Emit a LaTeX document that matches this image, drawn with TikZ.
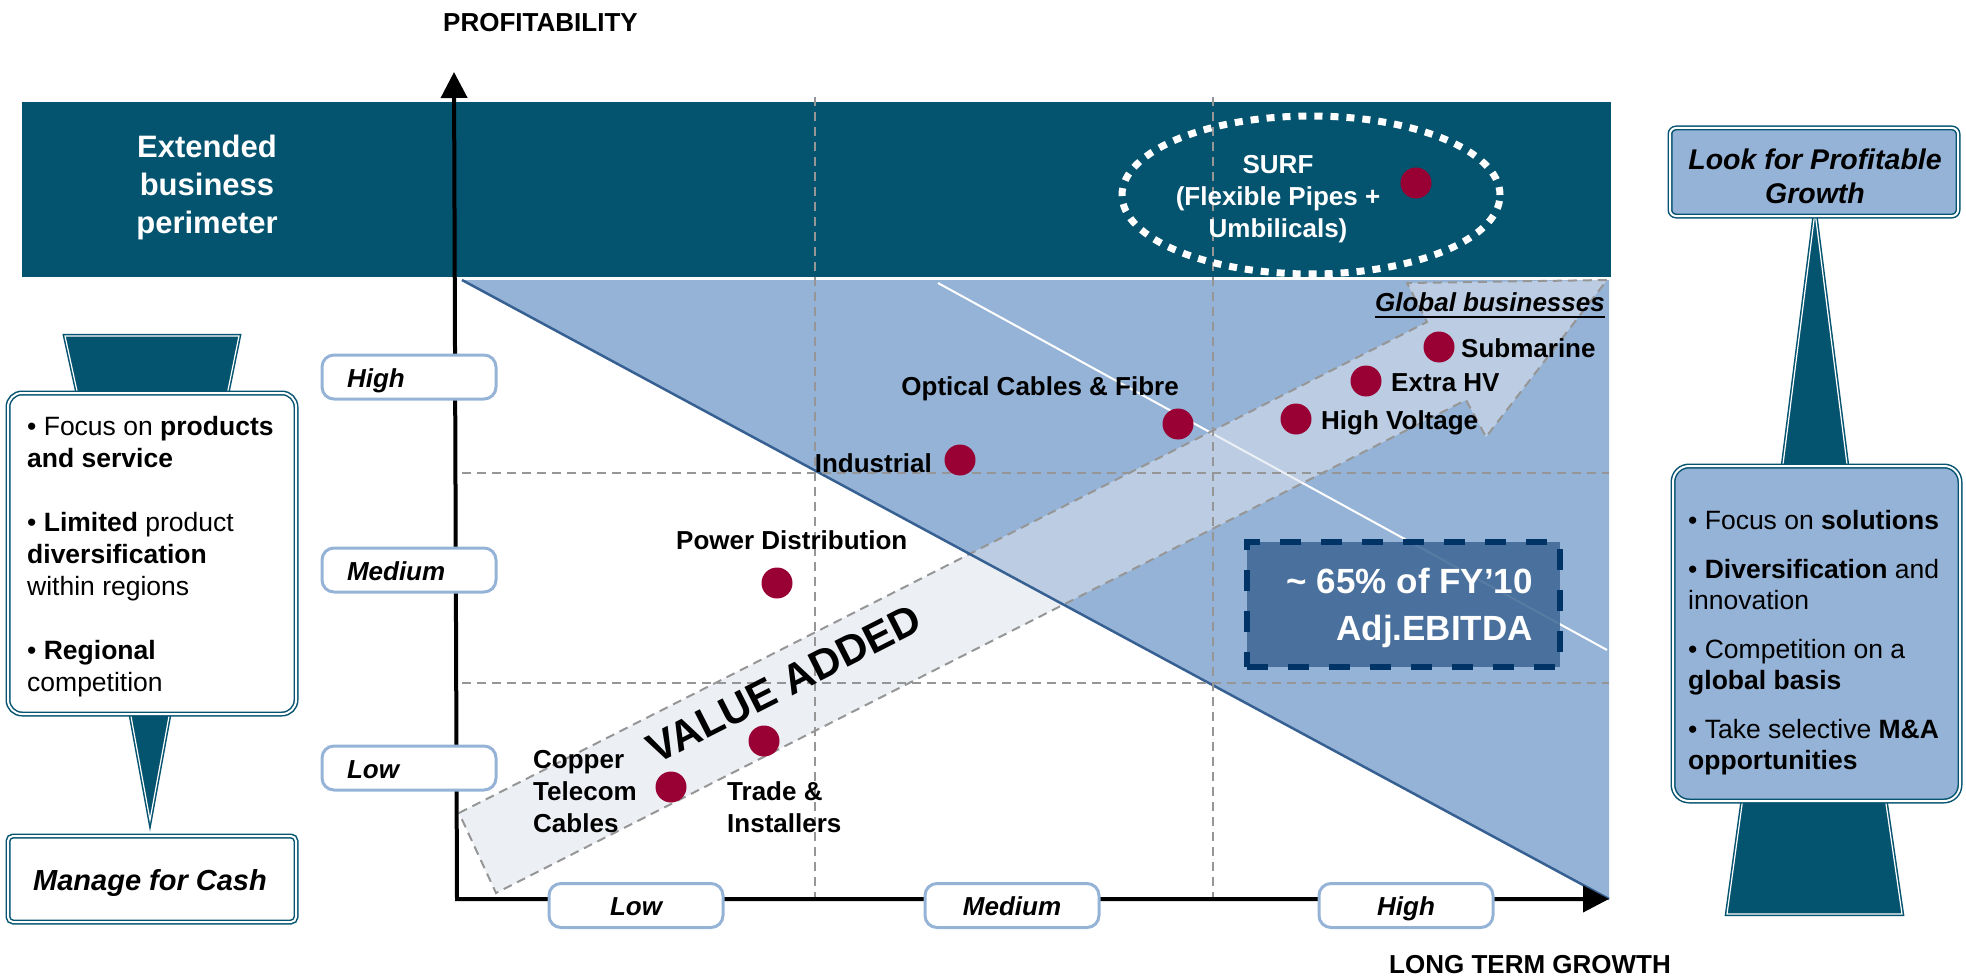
\documentclass[tikz,border=0pt]{standalone}
\usepackage{fontspec}
\setmainfont{Liberation Sans}
\usetikzlibrary{arrows.meta}
\newcommand\fsz[2]{\fontsize{#1}{#2}\selectfont}
\definecolor{teal0}{RGB}{4,83,111}
\definecolor{lblue}{RGB}{149,179,215}
\definecolor{hypo}{RGB}{55,96,146}
\definecolor{dotred}{RGB}{153,0,51}
\definecolor{boxblue}{RGB}{64,105,150}
\definecolor{navy0}{RGB}{0,51,102}
\definecolor{grid0}{RGB}{150,150,150}
\definecolor{arrowfill}{RGB}{221,227,237}
\begin{document}
\begin{tikzpicture}[x=1pt,y=-1pt,
  gridline/.style={draw=grid0, line width=2pt, dash pattern=on 9pt off 6pt},
  reddot/.style={circle, fill=dotred, minimum size=31pt, inner sep=0pt},
  lbl/.style={font=\fsz{26}{32}\bfseries, inner sep=0pt},
  ylbl/.style={draw=lblue, line width=3pt, rounded corners=12pt, fill=white, minimum height=44pt, text width=124pt, inner xsep=25pt, inner ysep=0pt, text height=20pt, text depth=0pt, align=left, font=\fsz{26}{32}\bfseries\itshape},
  xlbl/.style={draw=lblue, line width=3pt, rounded corners=12pt, fill=white, minimum height=44pt, minimum width=174pt, inner sep=0pt, text height=19pt, text depth=0pt, font=\fsz{26}{32}\bfseries\itshape},
  dblbox/.style={draw=teal0, double=white, double distance=2pt, line width=1.5pt},
  funnel/.style={fill=teal0, draw=teal0, double=white, double distance=1.2pt, line width=1.5pt, line join=miter},
]
\useasboundingbox (0,0) rectangle (1966,979);

% band
\fill[teal0] (22,102) rectangle (1611,277);
% triangle
\fill[lblue] (462,280) -- (1609,280) -- (1609,899) -- cycle;
% white diagonal
\draw[white, line width=2pt] (938,283) -- (1607,650);
% value added arrow
\draw[draw=grid0, line width=2pt, dash pattern=on 9pt off 6pt, fill=arrowfill, fill opacity=0.55]
  (459,813) -- (1427,322) -- (1407,283) -- (1607,280) -- (1486,437) -- (1466,400) -- (496,893) -- cycle;
% hypotenuse
\draw[hypo, line width=2.5pt] (462,280) -- (1609,899);
% grid
\draw[gridline] (815,97) -- (815,899);
\draw[gridline] (1213,97) -- (1213,899);
\draw[gridline] (462,473) -- (1609,473);
\draw[gridline] (462,683) -- (1609,683);
% ellipse
\draw[white, line width=7pt, dash pattern=on 8pt off 8pt] (1311,195) ellipse [x radius=189pt, y radius=79pt];
% 65% box
\node[draw=navy0, fill=boxblue, fill opacity=0.88, line width=6pt, dash pattern=on 21pt off 20pt, minimum width=313pt, minimum height=125pt, inner sep=0pt] (ebitda) at (1403.5,604.5) {};
\node[anchor=north east, align=right, text=white, font=\fsz{35}{47}\bfseries, inner sep=0pt] (ebitdatxt) at (1533,566) {\rule{0pt}{27pt}\textasciitilde{} 65\% of FY’10\\Adj.EBITDA};

% axes
\coordinate (ytip) at (454,72);
\coordinate (origin) at (457,899);
\coordinate (xtip) at (1609,899);
\draw[line width=4pt, line join=miter, {Triangle[length=26pt,width=26pt]}-{Triangle[length=26pt,width=26pt]}] (ytip) -- (origin) -- (xtip);

% axis labels
\node[lbl, anchor=base west] (profit) at (443,32) {PROFITABILITY};
\node[lbl, anchor=base west] (ltg) at (1389,973) {LONG TERM GROWTH};
\node[ylbl] (yhigh) at (409,377) {High};
\node[ylbl] (ymed) at (409,570) {Medium};
\node[ylbl] (ylow) at (409,768) {Low};
\node[xlbl] (xlow) at (636,905.5) {Low};
\node[xlbl] (xmed) at (1012,905.5) {Medium};
\node[xlbl] (xhigh) at (1406,905.5) {High};

% band texts
\node[anchor=north, align=center, text=white, font=\fsz{31}{38}\bfseries, inner sep=0pt] (ext) at (207,132) {\rule{0pt}{25pt}Extended\\business\\perimeter};
\node[anchor=north, align=center, text=white, font=\fsz{26}{32}\bfseries, inner sep=0pt] (surf) at (1278,152) {\rule{0pt}{21pt}SURF\\(Flexible Pipes +\\Umbilicals)};

% dots
\node[reddot] (dsurf) at (1416,183) {};
\node[reddot] (dsub) at (1439,347) {};
\node[reddot] (dehv) at (1366,381) {};
\node[reddot] (dhv) at (1296,419) {};
\node[reddot] (dopt) at (1178,424) {};
\node[reddot] (dind) at (960,460) {};
\node[reddot] (dpow) at (777,583) {};
\node[reddot] (dcop) at (671,787) {};
\node[reddot] (dtrade) at (764,741) {};

% labels
\node[lbl, anchor=base east, font=\fsz{26}{32}\bfseries\itshape] (glob) at (1605,311) {Global businesses};
\draw[line width=2.5pt] ([yshift=-6pt]glob.base west) -- ([yshift=-6pt]glob.base east);
\node[lbl, anchor=base west] (lsub) at (1461,357) {Submarine};
\node[lbl, anchor=base west] (lehv) at (1391,391) {Extra HV};
\node[lbl, anchor=base west] (lhv) at (1321,429) {High Voltage};
\node[lbl, anchor=base east] (lopt) at (1179,395) {Optical Cables \& Fibre};
\node[lbl, anchor=base east] (lind) at (932,472) {Industrial};
\node[lbl, anchor=base west] (lpow) at (676,549) {Power Distribution};
\node[lbl, anchor=north west, align=left] (lcop) at (533,747) {\rule{0pt}{21pt}Copper\\Telecom\\Cables};
\node[lbl, anchor=north west, align=left] (ltrade) at (727,779) {\rule{0pt}{21pt}Trade \&\\Installers};
\node[rotate=26.9, font=\fsz{42}{46}\bfseries, inner sep=0pt] (va) at (784,684) {VALUE ADDED};

% left panel
\draw[funnel] (65,336) -- (239,336) -- (226,400) -- (79,400) -- cycle;
\draw[funnel] (128,700) -- (172,700) -- (150,820) -- cycle;
\draw[dblbox, fill=white, rounded corners=14pt] (8,393) rectangle (296,714);
\node[anchor=north west, align=left, font=\fsz{26.5}{32}, inner sep=0pt] (lbul) at (27,414)
  {\rule{0pt}{21pt}• Focus on \textbf{products}\\\textbf{and service}\\[32pt]• \textbf{Limited} product\\\textbf{diversification}\\within regions\\[32pt]• \textbf{Regional}\\competition};
\draw[dblbox, fill=white, rounded corners=5pt] (8,836) rectangle (296,922);
\node[anchor=base, font=\fsz{29}{34}\bfseries\itshape, inner sep=0pt] (cash) at (150,890) {Manage for Cash};

% right panel
\draw[funnel] (1815,212) -- (1849,480) -- (1781,480) -- cycle;
\draw[funnel] (1744,790) -- (1884,790) -- (1902,914) -- (1727,914) -- cycle;
\draw[dblbox, fill=lblue, rounded corners=6pt] (1670,128) rectangle (1958,216);
\node[anchor=north, align=center, font=\fsz{28.5}{34}\bfseries\itshape, inner sep=0pt] (look) at (1815,147) {\rule{0pt}{22pt}Look for Profitable\\Growth};
\draw[dblbox, fill=lblue, rounded corners=16pt] (1673,466) rectangle (1960,801);
\node[anchor=north west, align=left, font=\fsz{26.5}{31}, inner sep=0pt] (rbul) at (1688,508)
  {\rule{0pt}{21pt}• Focus on \textbf{solutions}\\[18pt]• \textbf{Diversification} and\\innovation\\[18pt]• Competition on a\\\textbf{global basis}\\[18pt]• Take selective \textbf{M\&A}\\\textbf{opportunities}};
\end{tikzpicture}
\end{document}
